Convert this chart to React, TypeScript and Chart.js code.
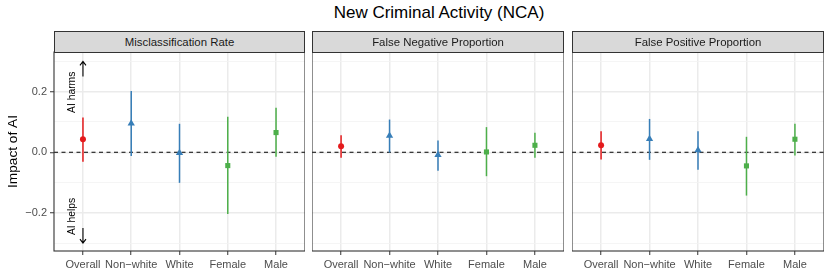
import React, { useEffect, useRef } from 'react';
import { Chart, registerables } from 'chart.js';

Chart.register(...registerables);

const FONT = "'Liberation Sans', Arial, Helvetica, sans-serif";

// ---------- data ----------
const chartTitle = 'New Criminal Activity (NCA)';
const yAxisTitle = 'Impact of AI';
const categories = ['Overall', 'Non\u2212white', 'White', 'Female', 'Male'];
const panelTitles = ['Misclassification Rate', 'False Negative Proportion', 'False Positive Proportion'];

const misEst = [0.043, 0.095, -0.002, -0.044, 0.065];
const misLo = [-0.031, -0.012, -0.101, -0.204, -0.015];
const misHi = [0.115, 0.202, 0.094, 0.117, 0.147];

const fnEst = [0.020, 0.055, -0.009, 0.001, 0.023];
const fnLo = [-0.018, -0.001, -0.061, -0.079, -0.018];
const fnHi = [0.056, 0.108, 0.039, 0.083, 0.064];

const fpEst = [0.023, 0.044, 0.007, -0.045, 0.043];
const fpLo = [-0.024, -0.025, -0.058, -0.143, -0.011];
const fpHi = [0.069, 0.110, 0.069, 0.051, 0.094];

const pointColors = ['#E41A1C', '#377EB8', '#377EB8', '#4DAF4A', '#4DAF4A'];
const pointShapes = ['circle', 'triangle', 'triangle', 'rect', 'rect'];
const pointSizes = [3, 4.2, 4.2, 3.6, 3.6];

const yTickValues = [-0.3, -0.2, -0.1, 0, 0.1, 0.2, 0.3];
const yMin = -0.326;
const yMax = 0.331;

const annotationTexts = ['AI harms', 'AI helps'];
const annotationY = [0.198, -0.212];
const annotationX = -0.225;
const arrowFrom = [0.25, -0.25];
const arrowTo = [0.3, -0.3];
const arrowX = 0;

const panelEst = [misEst, fnEst, fpEst];
const panelLo = [misLo, fnLo, fpLo];
const panelHi = [misHi, fnHi, fpHi];

// ---------- layout ----------
const layout = [
  { canvasLeft: 0, canvasWidth: 305, yWidth: 54 },
  { canvasLeft: 312, canvasWidth: 252, yWidth: 0 },
  { canvasLeft: 572, canvasWidth: 252, yWidth: 0 },
];
const CANVAS_H = 277;
const PANEL_TOP = 52;
const X_AXIS_H = 26;

const isMajor = (v: number) => Math.abs(Math.round(v * 10)) % 2 === 0;
const fmt = (v: number) => {
  const r = Math.round(v * 10) / 10;
  if (r === 0) return '0.0';
  return (r < 0 ? '\u2212' : '') + Math.abs(r).toFixed(1);
};

function PanelChart({ idx }: { idx: number }) {
  const ref = useRef<HTMLCanvasElement | null>(null);
  useEffect(() => {
    const canvas = ref.current;
    if (!canvas) return;
    const showY = idx === 0;
    const est = panelEst[idx];
    const lo = panelLo[idx];
    const hi = panelHi[idx];
    const lay = layout[idx];

    const plugin = {
      id: 'panelDecor' + idx,
      beforeDatasetsDraw(chart: any) {
        const { ctx, chartArea, scales } = chart;
        const xs = scales.x;
        const ys = scales.y;
        ctx.save();
        // zero line
        ctx.strokeStyle = '#000';
        ctx.lineWidth = 1;
        ctx.setLineDash([4, 3.5]);
        const y0 = ys.getPixelForValue(0);
        ctx.beginPath();
        ctx.moveTo(chartArea.left, y0);
        ctx.lineTo(chartArea.right, y0);
        ctx.stroke();
        ctx.setLineDash([]);
        // error bars
        ctx.lineWidth = 1.5;
        for (let i = 0; i < est.length; i++) {
          const x = xs.getPixelForValue(i);
          ctx.strokeStyle = pointColors[i];
          ctx.beginPath();
          ctx.moveTo(x, ys.getPixelForValue(lo[i]));
          ctx.lineTo(x, ys.getPixelForValue(hi[i]));
          ctx.stroke();
        }
        ctx.restore();
      },
      afterDraw(chart: any) {
        const { ctx, chartArea, scales } = chart;
        const xs = scales.x;
        const ys = scales.y;
        ctx.save();
        if (showY) {
          ctx.fillStyle = '#000';
          ctx.strokeStyle = '#000';
          ctx.font = `10.3px ${FONT}`;
          ctx.textAlign = 'center';
          ctx.textBaseline = 'middle';
          for (let k = 0; k < annotationTexts.length; k++) {
            ctx.save();
            ctx.translate(xs.getPixelForValue(annotationX), ys.getPixelForValue(annotationY[k]));
            ctx.rotate(-Math.PI / 2);
            ctx.fillText(annotationTexts[k], 0, 0);
            ctx.restore();
            const ax = xs.getPixelForValue(arrowX);
            const yA = ys.getPixelForValue(arrowFrom[k]);
            const yB = ys.getPixelForValue(arrowTo[k]);
            const dir = yB < yA ? 1 : -1;
            ctx.lineWidth = 1.1;
            ctx.beginPath();
            ctx.moveTo(ax, yA);
            ctx.lineTo(ax, yB);
            ctx.moveTo(ax - 3, yB + dir * 4);
            ctx.lineTo(ax, yB);
            ctx.lineTo(ax + 3, yB + dir * 4);
            ctx.stroke();
          }
        }
        // panel border
        ctx.strokeStyle = '#333333';
        ctx.lineWidth = 1.1;
        ctx.strokeRect(chartArea.left, chartArea.top, chartArea.right - chartArea.left, chartArea.bottom - chartArea.top);
        ctx.restore();
      },
    };

    const chart = new Chart(canvas, {
      type: 'scatter',
      data: {
        datasets: [
          {
            data: est.map((y, i) => ({ x: i, y })),
            pointStyle: pointShapes as any,
            pointRadius: pointSizes,
            backgroundColor: pointColors,
            borderColor: pointColors,
            borderWidth: 0,
            showLine: false,
          },
        ],
      },
      options: {
        responsive: false,
        animation: false,
        devicePixelRatio: 1,
        layout: { autoPadding: false, padding: { left: 0, right: 0, top: PANEL_TOP, bottom: 0 } },
        plugins: {
          legend: { display: false },
          tooltip: { enabled: false },
          title: { display: false },
        },
        scales: {
          x: {
            type: 'linear',
            min: -0.6,
            max: 4.6,
            afterBuildTicks: (s: any) => {
              s.ticks = categories.map((_, i) => ({ value: i }));
            },
            afterFit: (s: any) => {
              s.height = X_AXIS_H;
              s.paddingLeft = 0;
              s.paddingRight = 0;
            },
            ticks: {
              callback: (v: any) => categories[Math.round(Number(v))] ?? '',
              color: '#4D4D4D',
              font: { size: 11, family: FONT },
              padding: 3,
              maxRotation: 0,
              minRotation: 0,
              autoSkip: false,
            },
            grid: {
              color: '#EBEBEB',
              lineWidth: 1.5,
              tickColor: '#333333',
              tickLength: 4,
              tickWidth: 1,
              drawTicks: true,
            },
            border: { display: false },
          },
          y: {
            type: 'linear',
            min: yMin,
            max: yMax,
            afterBuildTicks: (s: any) => {
              s.ticks = yTickValues.map((v) => ({ value: v }));
            },
            afterFit: (s: any) => {
              s.width = lay.yWidth;
              s.paddingTop = 0;
              s.paddingBottom = 0;
            },
            ticks: {
              display: showY,
              callback: (v: any) => (isMajor(Number(v)) ? fmt(Number(v)) : ''),
              color: '#4D4D4D',
              font: { size: 11, family: FONT },
              padding: 3,
            },
            grid: {
              color: (c: any) => (c.tick && isMajor(c.tick.value) ? '#EBEBEB' : '#F2F2F2'),
              lineWidth: (c: any) => (c.tick && isMajor(c.tick.value) ? 1.5 : 0.8),
              tickColor: (c: any) => (c.tick && isMajor(c.tick.value) ? '#333333' : 'rgba(0,0,0,0)'),
              tickLength: showY ? 4 : 0,
              tickWidth: 1,
              drawTicks: showY,
            },
            border: { display: false },
            title: {
              display: showY,
              text: yAxisTitle,
              color: '#000',
              font: { size: 13.7, family: FONT },
              padding: { top: 5, bottom: 0 },
            },
          },
        },
      },
      plugins: [plugin],
    } as any);
    return () => chart.destroy();
  }, [idx]);

  const lay = layout[idx];
  return (
    <canvas
      ref={ref}
      width={lay.canvasWidth}
      height={CANVAS_H}
      style={{ position: 'absolute', left: lay.canvasLeft, top: 0, width: lay.canvasWidth, height: CANVAS_H }}
    />
  );
}

export default function App() {
  return (
    <div style={{ position: 'absolute', left: 0, top: 0, width: 830, height: 277, background: '#fff', fontFamily: FONT, overflow: 'hidden' }}>
      <div
        style={{
          position: 'absolute',
          left: 54,
          width: 770,
          top: 4,
          fontSize: 17,
          lineHeight: '17px',
          textAlign: 'center',
          color: '#000',
          whiteSpace: 'nowrap',
        }}
      >
        {chartTitle}
      </div>
      {layout.map((_, i) => (
        <PanelChart key={i} idx={i} />
      ))}
      {layout.map((lay, i) => {
        const left = lay.canvasLeft + lay.yWidth;
        const width = lay.canvasWidth - lay.yWidth;
        return (
          <div
            key={'s' + i}
            style={{
              position: 'absolute',
              left,
              top: 31,
              width,
              height: 22,
              boxSizing: 'border-box',
              background: '#D9D9D9',
              border: '1px solid #333333',
              display: 'flex',
              alignItems: 'center',
              justifyContent: 'center',
              fontSize: 11.4,
              color: '#1A1A1A',
              whiteSpace: 'nowrap',
            }}
          >
            {panelTitles[i]}
          </div>
        );
      })}
    </div>
  );
}
